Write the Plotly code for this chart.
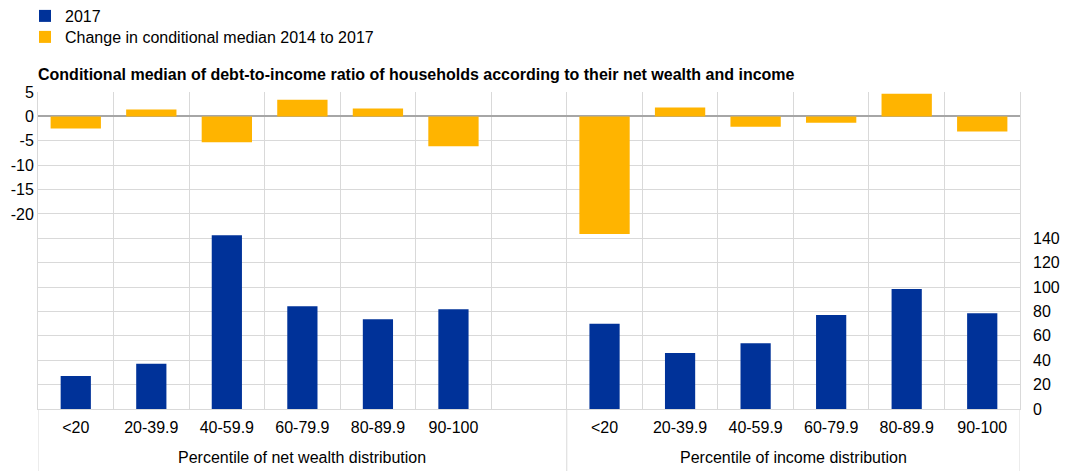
import plotly.graph_objects as go

# ---- data ----
groups = ["Percentile of net wealth distribution", "Percentile of income distribution"]
percentiles = ["<20", "20-39.9", "40-59.9", "60-79.9", "80-89.9", "90-100"]

median_2017_wealth = [27.1, 37.2, 142.5, 84.2, 73.6, 81.8]
median_2017_income = [70.0, 45.9, 53.9, 77.1, 98.4, 78.5]

change_wealth = [-2.5, 1.4, -5.3, 3.4, 1.6, -6.1]
change_income = [-24.1, 1.8, -2.1, -1.3, 4.65, -3.1]

left_ticks = [5, 0, -5, -10, -15, -20]
right_ticks = [0, 20, 40, 60, 80, 100, 120, 140]

series_names = ["2017", "Change in conditional median 2014 to 2017"]
title_text = "Conditional median of debt-to-income ratio of households according to their net wealth and income"

# ---- category slots: net wealth group (6 + one empty slot), then income group ----
n = len(percentiles)
pos_wealth = list(range(n))
pos_income = [n + 1 + i for i in range(n)]
n_slots = 2 * n + 1
x_pos = pos_wealth + pos_income
tick_text = percentiles + percentiles
blue_vals = median_2017_wealth + median_2017_income
orange_vals = change_wealth + change_income
slot_bounds = [i - 0.5 for i in range(n_slots + 1)]
group_spans = [(-0.5, n + 0.5), (n + 0.5, n_slots - 0.5)]

BLUE = "#003299"
ORANGE = "#ffb400"
GRID = "#d9d9d9"
FONT = "Arial, 'Liberation Sans', sans-serif"

W, H = 1064, 463
ML, MR, MT, MB = 30, 52, 84, 62
PW, PH = W - ML - MR, H - MT - MB

fig = go.Figure()
fig.add_trace(go.Bar(
    x=x_pos, y=blue_vals, name=series_names[0],
    marker=dict(color=BLUE, line=dict(width=0)), width=0.40, yaxis="y2",
    legend="legend",
))
fig.add_trace(go.Bar(
    x=x_pos, y=orange_vals, name=series_names[1],
    marker=dict(color=ORANGE, line=dict(width=0)), width=0.666, yaxis="y",
    legend="legend2",
))

# group labels + dividers below the axis
for (a, b), g in zip(group_spans, groups):
    fig.add_annotation(
        x=(a + b) / 2, xref="x", y=-48.7 / PH, yref="paper",
        text=g, showarrow=False, xanchor="center", yanchor="middle",
        font=dict(size=16, color="#000000", family=FONT),
    )
for xb in [group_spans[0][0], group_spans[0][1], group_spans[1][1]]:
    fig.add_shape(
        type="line", x0=xb, x1=xb, xref="x", y0=0, y1=-MB / PH, yref="paper",
        line=dict(color=GRID, width=1), layer="below",
    )

legend_x = (17 - ML) / PW
fig.update_layout(
    width=W, height=H,
    margin=dict(l=ML, r=MR, t=MT, b=MB, pad=0, autoexpand=False),
    paper_bgcolor="white", plot_bgcolor="white",
    font=dict(family=FONT, size=16, color="#000000"),
    barmode="overlay",
    showlegend=True,
    legend=dict(
        x=legend_x, xanchor="left", y=(MT + PH + 9) / PH, yanchor="top",
        orientation="v", bgcolor="rgba(0,0,0,0)", font=dict(size=16),
    ),
    legend2=dict(
        x=legend_x, xanchor="left", y=(MT + PH - 12) / PH, yanchor="top",
        orientation="v", bgcolor="rgba(0,0,0,0)", font=dict(size=16),
    ),
    title=dict(
        text="<b>" + title_text + "</b>",
        x=0, xref="paper", xanchor="left",
        y=1 - 66 / H, yref="container", yanchor="middle",
        font=dict(size=16, color="#000000", family=FONT),
        pad=dict(l=0, r=0, t=0, b=0),
    ),
    xaxis=dict(
        range=[slot_bounds[0], slot_bounds[-1]], automargin=False,
        tickmode="array", tickvals=x_pos, ticktext=tick_text,
        showgrid=False,
        minor=dict(tickmode="array", tickvals=slot_bounds, showgrid=True,
                   gridcolor=GRID, gridwidth=1, ticks=""),
        showline=True, linecolor=GRID, linewidth=1,
        ticks="", ticklabelstandoff=4, tickfont=dict(size=16),
        zeroline=False,
    ),
    yaxis=dict(
        range=[-60, 5], tickmode="array", tickvals=left_ticks, automargin=False,
        ticktext=[str(v) for v in left_ticks],
        showgrid=True, gridcolor=GRID, gridwidth=1,
        minor=dict(tickmode="linear", tick0=0, dtick=5, showgrid=True,
                   gridcolor=GRID, gridwidth=1, ticks=""),
        zeroline=True, zerolinecolor="#a6a6a6", zerolinewidth=2,
        showline=True, linecolor=GRID, linewidth=1, mirror=True,
        ticks="", ticklabelstandoff=0, tickfont=dict(size=16),
    ),
    yaxis2=dict(
        range=[0, 260], overlaying="y", side="right", automargin=False,
        tickmode="array", tickvals=right_ticks,
        showgrid=False, zeroline=False, showline=False,
        ticks="", ticklabelstandoff=12, tickfont=dict(size=16),
    ),
)

fig.write_html("out.html")
